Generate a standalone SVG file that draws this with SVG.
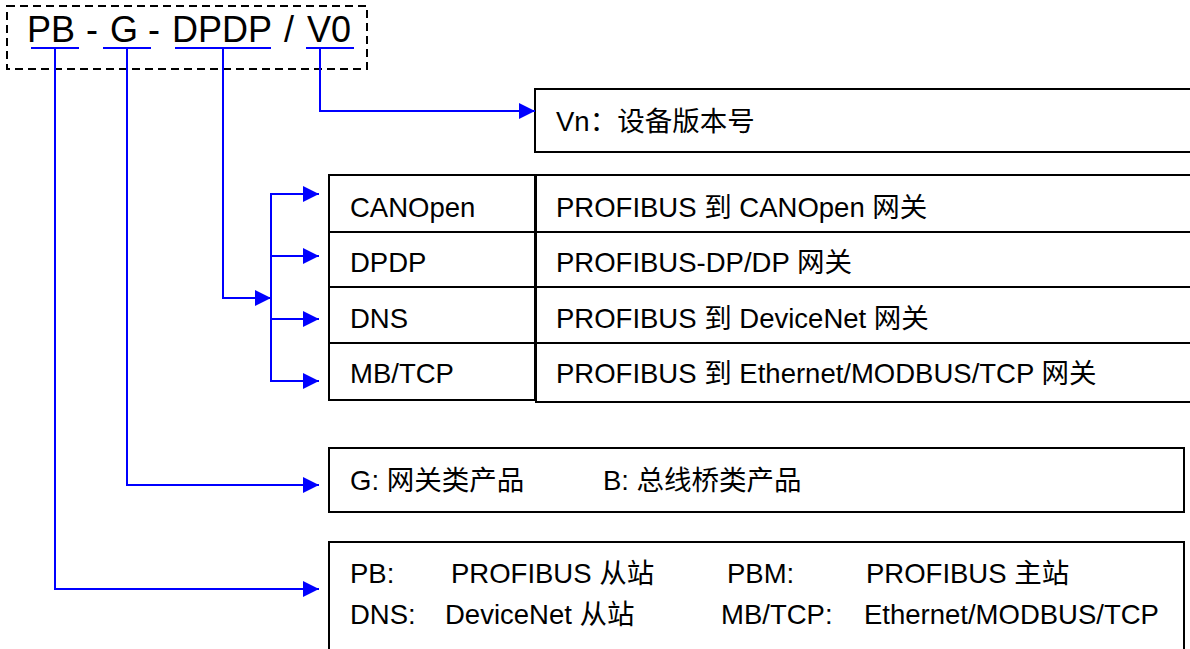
<svg xmlns="http://www.w3.org/2000/svg" width="1190" height="649" viewBox="0 0 1190 649">
  <defs>
    <style>
      .t { font-family: "Liberation Sans", "Noto Sans CJK SC", sans-serif; font-size: 27.5px; fill: #000; }
      .title { font-family: "Liberation Sans", "Noto Sans CJK SC", sans-serif; font-size: 36px; fill: #000; text-anchor: middle; }
      .box { fill: #fff; stroke: #000; stroke-width: 2; }
      .wire { fill: none; stroke: #0000ff; stroke-width: 2; }
      .dash { fill: none; stroke: #000; stroke-width: 2; stroke-dasharray: 8 5; }
    </style>
    <marker id="arrow" viewBox="0 0 16 16" refX="16" refY="8" markerWidth="16" markerHeight="16" markerUnits="userSpaceOnUse" orient="auto">
      <path d="M0,0 L16,8 L0,16 Z" fill="#0000ff"/>
    </marker>
  </defs>
  <rect width="1190" height="649" fill="#fff"/>

  <!-- code label -->
  <g id="code">
    <rect class="dash" x="7" y="6" width="360" height="63"/>
    <text class="title" x="51" y="42">PB</text>
    <text class="title" x="92" y="42">-</text>
    <text class="title" x="124" y="42">G</text>
    <text class="title" x="154" y="42">-</text>
    <text class="title" x="222" y="42">DPDP</text>
    <text class="title" x="289" y="42">/</text>
    <text class="title" x="329" y="42">V0</text>
  </g>

  <!-- version -->
  <g id="version">
    <rect class="box" x="535" y="89" width="670" height="63"/>
    <text class="t" x="556" y="131">Vn：设备版本号</text>
  </g>

  <!-- product type table -->
  <g id="types">
    <rect class="box" x="329" y="175" width="206" height="225"/>
    <line x1="329" y1="232" x2="535" y2="232" stroke="#000" stroke-width="2"/>
    <line x1="329" y1="287" x2="535" y2="287" stroke="#000" stroke-width="2"/>
    <line x1="329" y1="343" x2="535" y2="343" stroke="#000" stroke-width="2"/>
    <rect class="box" x="536" y="175" width="670" height="227"/>
    <line x1="536" y1="232" x2="1206" y2="232" stroke="#000" stroke-width="2"/>
    <line x1="536" y1="287" x2="1206" y2="287" stroke="#000" stroke-width="2"/>
    <line x1="536" y1="343" x2="1206" y2="343" stroke="#000" stroke-width="2"/>
    <text class="t" x="350" y="217">CANOpen</text>
    <text class="t" x="350" y="272">DPDP</text>
    <text class="t" x="350" y="328">DNS</text>
    <text class="t" x="350" y="383">MB/TCP</text>
    <text class="t" x="556" y="217">PROFIBUS 到 CANOpen 网关</text>
    <text class="t" x="556" y="272">PROFIBUS-DP/DP 网关</text>
    <text class="t" x="556" y="328">PROFIBUS 到 DeviceNet 网关</text>
    <text class="t" x="556" y="383">PROFIBUS 到 Ethernet/MODBUS/TCP 网关</text>
  </g>

  <!-- product class -->
  <g id="class">
    <rect class="box" x="329" y="448" width="855" height="64"/>
    <text class="t" x="350" y="490">G:  网关类产品</text>
    <text class="t" x="603" y="490">B:  总线桥类产品</text>
  </g>

  <!-- bus type -->
  <g id="bus">
    <rect class="box" x="329" y="542" width="855" height="130"/>
    <text class="t" x="350" y="583">PB:</text>
    <text class="t" x="451" y="583">PROFIBUS 从站</text>
    <text class="t" x="727" y="583">PBM:</text>
    <text class="t" x="866" y="583">PROFIBUS 主站</text>
    <text class="t" x="350" y="624">DNS:</text>
    <text class="t" x="445" y="624">DeviceNet 从站</text>
    <text class="t" x="721" y="624">MB/TCP:</text>
    <text class="t" x="864" y="624">Ethernet/MODBUS/TCP</text>
  </g>

  <!-- connectors -->
  <g id="connectors" class="wire">
    <line x1="31" y1="48" x2="79" y2="48"/>
    <line x1="103" y1="48" x2="151" y2="48"/>
    <line x1="175" y1="48" x2="271" y2="48"/>
    <line x1="306" y1="48" x2="354" y2="48"/>
    <polyline points="320,48 320,111 535,111" marker-end="url(#arrow)"/>
    <polyline points="223,48 223,298 271,298" marker-end="url(#arrow)"/>
    <line x1="271" y1="194" x2="271" y2="381"/>
    <line x1="270" y1="194" x2="319" y2="194" marker-end="url(#arrow)"/>
    <line x1="270" y1="256" x2="319" y2="256" marker-end="url(#arrow)"/>
    <line x1="270" y1="319" x2="319" y2="319" marker-end="url(#arrow)"/>
    <line x1="270" y1="381" x2="319" y2="381" marker-end="url(#arrow)"/>
    <polyline points="127,48 127,485 319,485" marker-end="url(#arrow)"/>
    <polyline points="55,48 55,589 319,589" marker-end="url(#arrow)"/>
  </g>
</svg>
